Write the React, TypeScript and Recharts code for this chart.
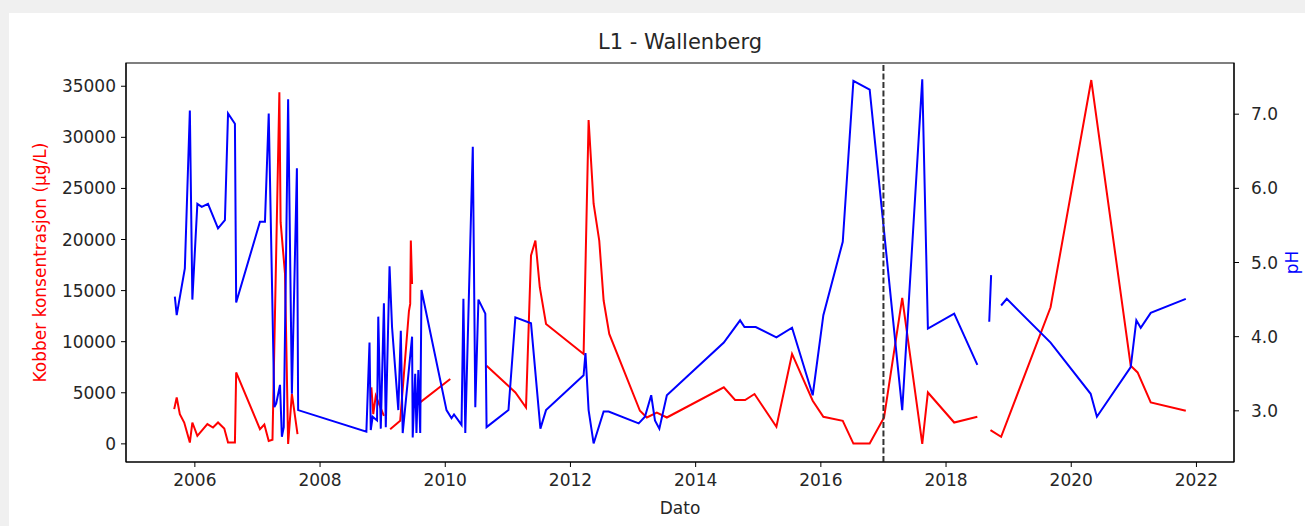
import React from "react"
import {
  LineChart,
  Line,
  XAxis,
  YAxis,
  ReferenceLine,
  ReferenceArea,
  Label,
} from "recharts"

// decimal years, null = gap in the series
const cuDates = [
  2005.67, 2005.71, 2005.76, 2005.83, 2005.92, 2005.96, 2006.04, 2006.2, 2006.29, 2006.37,
  2006.47, 2006.53, 2006.64, 2006.66, 2007.04, 2007.11, 2007.18, 2007.24, 2007.35, 2007.37,
  2007.44, 2007.49, 2007.55, 2007.64, 2008.0, 2008.82, 2008.85, 2008.89, 2009.02, 2009.07,
  2009.12, 2009.28, 2009.42, 2009.44, 2009.45, 2009.47, 2009.475, 2009.48, 2010.08, 2010.3,
  2010.66, 2011.12, 2011.29, 2011.37, 2011.44, 2011.51, 2011.61, 2012.21, 2012.29, 2012.37,
  2012.46, 2012.53, 2012.62, 2013.11, 2013.22, 2013.38, 2013.54, 2014.45, 2014.63, 2014.79,
  2014.94, 2015.29, 2015.54, 2015.87, 2016.04, 2016.35, 2016.52, 2016.78, 2017.01, 2017.3,
  2017.62, 2017.71, 2018.13, 2018.5, 2018.6, 2018.71, 2018.88, 2019.67, 2020.32, 2020.95,
  2021.06, 2021.27, 2021.83,
]
const cuValues = [
  3400, 4540, 2900, 2090, 130, 2090, 785, 1930, 1600, 2090,
  1500, 130, 130, 6990, 1440, 1900, 290, 400, 34400, 21700,
  16650, 0, 4900, 950, null, 5530, 2900, 4700, 2750, null,
  1440, 2260, 13000, 13700, 19900, 15650, null, 3500, 6350, null,
  7650, 5030, 3560, 18440, 19900, 15330, 11740, 8800, 31690, 23500,
  19900, 14030, 10760, 3240, 2580, 3070, 2580, 5530, 4290, 4290,
  4880, 1670, 8800, 4220, 2650, 2260, 30, 30, 2580, 14290,
  0, 5030, 2090, 2650, null, 1340, 690, 13370, 35610, 7650,
  6990, 4050, 3240,
]

const phDates = [
  2005.68, 2005.71, 2005.84, 2005.92, 2005.96, 2006.04, 2006.11, 2006.21, 2006.37, 2006.48,
  2006.53, 2006.64, 2006.66, 2007.04, 2007.12, 2007.18, 2007.27, 2007.3, 2007.36, 2007.39,
  2007.42, 2007.49, 2007.55, 2007.63, 2007.65, 2008.74, 2008.79, 2008.81, 2008.84, 2008.91,
  2008.93, 2008.97, 2009.02, 2009.05, 2009.11, 2009.15, 2009.25, 2009.29, 2009.32, 2009.47,
  2009.48, 2009.52, 2009.54, 2009.57, 2009.6, 2009.62, 2010.02, 2010.1, 2010.14, 2010.26,
  2010.29, 2010.32, 2010.44, 2010.48, 2010.53, 2010.64, 2010.66, 2011.01, 2011.12, 2011.37,
  2011.52, 2011.61, 2012.21, 2012.24, 2012.29, 2012.37, 2012.53, 2012.61, 2013.09, 2013.19,
  2013.29, 2013.35, 2013.42, 2013.54, 2014.45, 2014.71, 2014.78, 2014.96, 2015.29, 2015.54,
  2015.87, 2016.04, 2016.35, 2016.52, 2016.78, 2017.3, 2017.62, 2017.71, 2018.13, 2018.5,
  2018.6, 2018.69, 2018.72, 2018.8, 2018.88, 2018.97, 2019.67, 2020.31, 2020.41, 2020.95,
  2021.04, 2021.11, 2021.27, 2021.83,
]
const phValues = [
  4.54, 4.29, 4.92, 7.05, 4.5, 5.79, 5.75, 5.79, 5.46, 5.57,
  7.01, 6.87, 4.46, 5.55, 5.55, 7.01, 3.05, 3.1, 3.35, 2.65,
  2.78, 7.2, 3.23, 6.27, 3.01, 2.72, 3.92, 2.74, 2.92, 2.87,
  4.27, 2.76, 4.45, 2.78, 4.95, 4.13, 3.01, 4.08, 2.7, 4.0,
  2.64, 3.5, 2.7, 3.55, 2.7, 4.63, 3.01, 2.9, 2.95, 2.81,
  4.51, 2.7, 6.56, 3.05, 4.5, 4.31, 2.78, 3.01, 4.26, 4.18,
  2.76, 3.01, 3.48, 3.78, 3.01, 2.56, 2.99, 2.99, 2.83, 2.92,
  3.21, 2.87, 2.76, 3.21, 3.92, 4.22, 4.13, 4.13, 3.99, 4.12,
  3.21, 4.29, 5.28, 7.45, 7.33, 3.01, 7.47, 4.11, 4.31, 3.62,
  null, 4.2, 4.83, null, 4.42, 4.51, 3.92, 3.23, 2.92, 3.59,
  4.22, 4.12, 4.32, 4.51,
]

const yearTicks = [2006, 2008, 2010, 2012, 2014, 2016, 2018, 2020, 2022]
const cuTicks = [0, 5000, 10000, 15000, 20000, 25000, 30000, 35000]
const phTicks = [3, 4, 5, 6, 7]
const changeYear = 2017

const cuData = cuDates.map((t, i) => ({ t, v: cuValues[i] }))
const phData = phDates.map((t, i) => ({ t, v: phValues[i] }))

const FONT = "'DejaVu Sans', sans-serif"
const TXT = "#262626"
const FS = 17

const xDomain = [2004.9, 2022.6]
const cuDomain = [-1775, 37275]
const phDomain = [2.31, 7.69]

const sideLabel = (text: string, x: number, color: string) => (props: any) => {
  const vb = props.viewBox
  const cy = vb.y + vb.height / 2
  return (
    <text
      x={x}
      y={cy}
      transform={`rotate(-90, ${x}, ${cy})`}
      textAnchor="middle"
      dominantBaseline="central"
      fill={color}
      fontSize={FS}
      fontFamily={FONT}
    >
      {text}
    </text>
  )
}

export default function App() {
  return (
    <div style={{ width: 1305, height: 526, background: "#f0f0f0", position: "relative" }}>
      <style>{"body{margin:0;background:#f0f0f0}"}</style>
      <div
        style={{
          position: "absolute",
          left: 9,
          top: 13,
          width: 1296,
          height: 513,
          background: "#fff",
          fontFamily: FONT,
        }}
      >
        <div
          style={{
            position: "absolute",
            left: 117,
            width: 1108,
            top: 17,
            textAlign: "center",
            fontSize: 21,
            lineHeight: "24px",
            color: TXT,
          }}
        >
          L1 - Wallenberg
        </div>
        <LineChart
          width={1296}
          height={513}
          margin={{ top: 50, right: 0, bottom: 0, left: 0 }}
        >
          <XAxis
            dataKey="t"
            type="number"
            domain={xDomain}
            ticks={yearTicks}
            allowDataOverflow
            height={64}
            tickSize={5}
            tickMargin={7}
            stroke="#000"
            tick={{ fill: TXT, fontSize: FS, fontFamily: FONT }}
          >
            <Label
              content={(props: any) => {
                const vb = props.viewBox
                return (
                  <text
                    x={vb.x + vb.width / 2}
                    y={495}
                    textAnchor="middle"
                    dominantBaseline="central"
                    fill={TXT}
                    fontSize={FS}
                    fontFamily={FONT}
                  >
                    Dato
                  </text>
                )
              }}
            />
          </XAxis>
          <YAxis
            yAxisId="left"
            type="number"
            domain={cuDomain}
            ticks={cuTicks}
            allowDataOverflow
            width={117}
            tickSize={5}
            tickMargin={5}
            stroke="#000"
            tick={{ fill: TXT, fontSize: FS, fontFamily: FONT }}
          >
            <Label content={sideLabel("Kobber konsentrasjon (µg/L)", 31, "#ff0000")} />
          </YAxis>
          <YAxis
            yAxisId="right"
            orientation="right"
            type="number"
            domain={phDomain}
            ticks={phTicks}
            allowDataOverflow
            width={71}
            tickSize={5}
            tickMargin={12}
            stroke="#000"
            tickFormatter={(v: number) => v.toFixed(1)}
            tick={{ fill: TXT, fontSize: FS, fontFamily: FONT }}
          >
            <Label content={sideLabel("pH", 1283, "#0000ff")} />
          </YAxis>
          <ReferenceArea
            yAxisId="left"
            x1={xDomain[0]}
            x2={xDomain[1]}
            y1={cuDomain[0]}
            y2={cuDomain[1]}
            fill="none"
            stroke="#000"
            strokeWidth={1.2}
          />
          <Line
            yAxisId="left"
            data={cuData}
            dataKey="v"
            stroke="#ff0000"
            strokeWidth={2}
            dot={false}
            activeDot={false}
            isAnimationActive={false}
          />
          <Line
            yAxisId="right"
            data={phData}
            dataKey="v"
            stroke="#0000ff"
            strokeWidth={2}
            dot={false}
            activeDot={false}
            isAnimationActive={false}
          />
          <ReferenceLine
            yAxisId="left"
            x={changeYear}
            stroke="#333"
            strokeWidth={2}
            strokeDasharray="6 2.5"
          />
        </LineChart>
      </div>
    </div>
  )
}
